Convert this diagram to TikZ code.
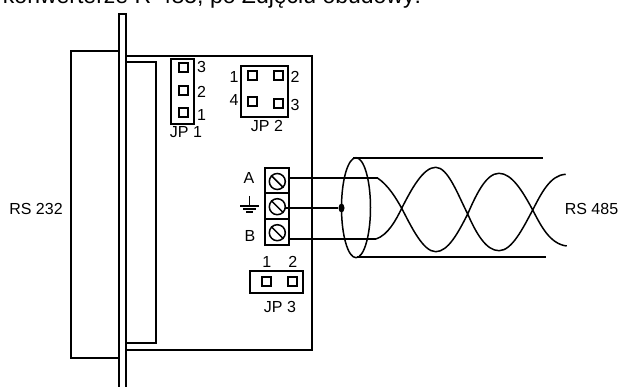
\documentclass[tikz,border=0pt]{standalone}
\usepackage{fontspec}
\setmainfont{Liberation Sans}
\usetikzlibrary{shapes.geometric}
\begin{document}
\begin{tikzpicture}[x=1pt,y=-1pt,line width=1.5pt]

\tikzstyle{every node} = [inner sep=0pt, font=\fontsize{16}{17}\selectfont]
\tikzstyle{pin} = [draw, rectangle, minimum size=9pt, line width=1.5pt]
\tikzstyle{screw} = [draw, circle, minimum size=16pt]
\tikzstyle{wire} = [line width=1.5pt]

\useasboundingbox (0,0) rectangle (619,387);

\clip (0,0) rectangle (619,387);
\node[anchor=base, font=\fontsize{23}{24}\selectfont] (title) at (212,4) {konwerterze R-485, po Zdjęciu obudowy:};

% obudowa
\draw (119,51) -- (71,51) -- (71,358) -- (119,358);
\draw (119,387) -- (119,14) -- (126,14) -- (126,387);
\draw (126,56) -- (312,56) -- (312,350) -- (126,350);
\draw (126,62) -- (156,62) -- (156,343) -- (126,343);

% JP 1
\draw (171,59) rectangle (194,124);
\node[pin] (p3) at (183.5,67.5) {};
\node[pin] (p2) at (183.5,90.5) {};
\node[pin] (p1) at (183.5,112.5) {};
\node at (201.5,66.5) {3};
\node at (201.5,91.5) {2};
\node at (201.5,115) {1};
\node (jp1) at (186,132) {JP 1};

% JP 2
\draw (241,66) rectangle (288,117);
\node[pin] (q1) at (252.5,75.5) {};
\node[pin] (q2) at (278.5,75.5) {};
\node[pin] (q4) at (252.5,101.5) {};
\node[pin] (q3) at (278.5,103.5) {};
\node at (234,76.5) {1};
\node at (295,76.5) {2};
\node at (234,100) {4};
\node at (295,105) {3};
\node (jp2) at (267,126) {JP 2};

% zaciski
\draw (265,168) rectangle (289,245);
\draw (265,193) -- (289,193);
\draw (265,219) -- (289,219);
\node[screw] (sa) at (277.3,181.5) {};
\node[screw] (sg) at (277.3,206.7) {};
\node[screw] (sb) at (277.3,232.7) {};
\draw[wire] (sa.north west) -- (sa.south east);
\draw[wire] (sg.north west) -- (sg.south east);
\draw[wire] (sb.north west) -- (sb.south east);
\node (a) at (249,178) {A};
\node (b) at (250,236) {B};

% masa
\coordinate (g0) at (249.5,196);
\coordinate (g1) at (249.5,206);
\draw[wire] (g0) -- (g1);
\draw[wire] (240,206) -- (259,206);
\draw[wire] (243,209) -- (256,209);
\draw[wire] (246,212) -- (253,212);

% JP 3
\draw (250,271) rectangle (303,293);
\node[pin] (r1) at (266.5,281.5) {};
\node[pin] (r2) at (292.5,281.5) {};
\node at (266.7,261.5) {1};
\node at (292.7,261.5) {2};
\node (jp3) at (280,307) {JP 3};

% kabel
\node[draw, ellipse, minimum width=29pt, minimum height=100pt] (shield) at (356,207.7) {};
\coordinate (d) at (341.5,208);
\coordinate (wa) at (288,178);
\coordinate (wg) at (285,208);
\coordinate (wb) at (288,239);
\coordinate (ta) at (377.5,178);
\coordinate (tb) at (376,239);
\node[fill=black, ellipse, minimum width=6pt, minimum height=9pt] (dot) at (d) {};
\draw[wire] (wa) -- (ta);
\draw[wire] (wg) -- (dot);
\draw[wire] (wb) -- (tb);
\draw (353,158) -- (543,158);
\draw (357,257) -- (546,257);

% skretka
\draw[wire] (ta) .. controls (388,185) and (396,198) .. (401.7,208.3)
  .. controls (411,190) and (423,167.3) .. (435.7,167.3)
  .. controls (448,167.3) and (458,195) .. (467.7,214)
  .. controls (476,195) and (486,173.3) .. (499,173.3)
  .. controls (512,173.3) and (523,192) .. (532.7,210)
  .. controls (541,194) and (550,175) .. (565.7,174.3);
\draw[wire] (tb) .. controls (388,235) and (396,220) .. (401.7,208.3)
  .. controls (411,226) and (423,251.7) .. (435.7,251.7)
  .. controls (448,251.7) and (458,233) .. (467.7,214)
  .. controls (476,233) and (486,250.7) .. (499,250.7)
  .. controls (512,250.7) and (523,228) .. (532.7,210)
  .. controls (541,226) and (550,244) .. (566.7,246);

\node (rs232) at (36,209) {RS 232};
\node (rs485) at (591.5,209) {RS 485};
\end{tikzpicture}
\end{document}
